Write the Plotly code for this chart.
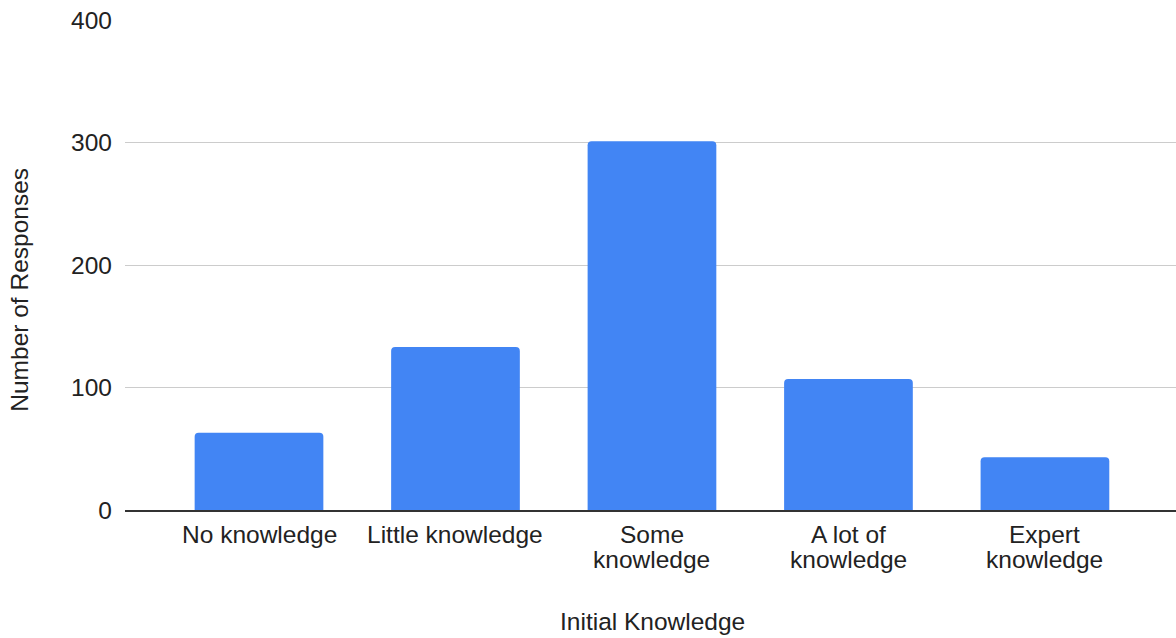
import plotly.graph_objects as go

# Survey responses by self-reported initial knowledge
categories = ["No knowledge", "Little knowledge", "Some knowledge",
              "A lot of knowledge", "Expert knowledge"]
responses = [63, 133, 301, 107, 43]

# Category labels split over two lines (second line may be empty)
label_line1 = ["No knowledge", "Little knowledge", "Some", "A lot of", "Expert"]
label_line2 = ["", "", "knowledge", "knowledge", "knowledge"]

y_ticks = [0, 100, 200, 300, 400]

FONT = "Liberation Sans, Arial, sans-serif"
SIZE = 24.5
TEXT = "#222222"

fig = go.Figure(
    go.Bar(
        x=categories,
        y=responses,
        marker=dict(color="#4285F4", line=dict(width=0)),
        width=0.655,
        hoverinfo="x+y",
    )
)

annotations = []
for cat, l1, l2 in zip(categories, label_line1, label_line2):
    annotations.append(dict(
        x=cat, xref="x", y=0, yref="paper", text=l1, showarrow=False,
        xanchor="center", yanchor="middle", yshift=-24,
        font=dict(family=FONT, size=SIZE, color=TEXT),
    ))
    if l2:
        annotations.append(dict(
            x=cat, xref="x", y=0, yref="paper", text=l2, showarrow=False,
            xanchor="center", yanchor="middle", yshift=-49,
            font=dict(family=FONT, size=SIZE, color=TEXT),
        ))

# Axis titles
annotations.append(dict(
    x=652, xref="paper", y=0, yref="paper", text="Initial Knowledge",
    showarrow=False, xanchor="center", yanchor="middle",
    font=dict(family=FONT, size=SIZE, color=TEXT),
))
annotations.append(dict(
    x=0, xref="paper", y=0.5, yref="paper", text="Number of Responses",
    showarrow=False, textangle=-90, xanchor="center", yanchor="middle",
    font=dict(family=FONT, size=SIZE, color=TEXT),
))

W, H = 1176, 638
ml, mr, mt, mb = 125, 0, 20, 127.5
pw, ph = W - ml - mr, H - mt - mb

def px_x(x):
    return (x - ml) / pw

def px_y(y):
    return (H - mb - y) / ph

annotations[-2]["x"] = px_x(652)
annotations[-2]["y"] = px_y(622)
annotations[-1]["x"] = px_x(20)
annotations[-1]["y"] = px_y(290)

fig.update_layout(
    width=W, height=H,
    margin=dict(l=ml, r=mr, t=mt, b=mb, pad=0),
    paper_bgcolor="white", plot_bgcolor="white",
    barcornerradius=4,
    showlegend=False,
    font=dict(family=FONT, size=SIZE, color=TEXT),
    xaxis=dict(
        range=[-0.682, 4.667],
        showticklabels=False, ticks="",
        showgrid=False, zeroline=False,
        showline=True, linecolor="#333333", linewidth=1.5,
        fixedrange=True,
    ),
    yaxis=dict(
        range=[0, 400],
        tickvals=y_ticks,
        ticktext=[str(v) for v in y_ticks],
        ticks="", ticklabelstandoff=12,
        showgrid=True, gridcolor="#cccccc", gridwidth=1.3,
        zeroline=False, showline=False,
        tickfont=dict(family=FONT, size=SIZE, color=TEXT),
        fixedrange=True,
    ),
    annotations=annotations,
)

fig.write_html("out.html", config={"displayModeBar": False})
